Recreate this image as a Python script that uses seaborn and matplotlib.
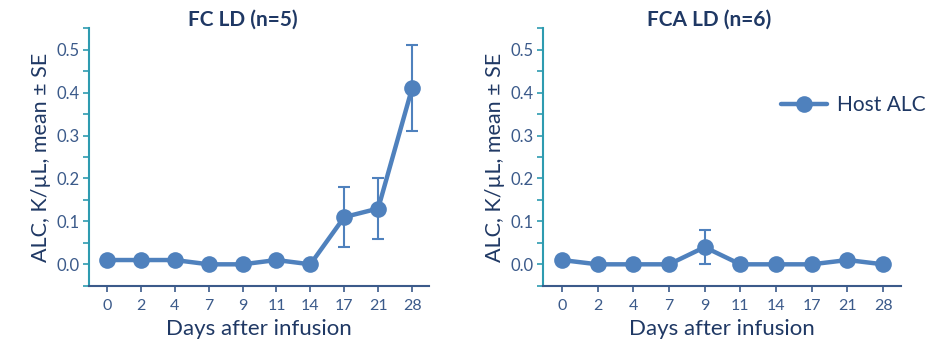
import numpy as np
import pandas as pd
import seaborn as sns
import matplotlib.pyplot as plt
from matplotlib.ticker import FixedLocator

sns.set_style('white')
plt.rcParams['font.family'] = ['Lato', 'DejaVu Sans']

days = ['0', '2', '4', '7', '9', '11', '14', '17', '21', '28']
fc_mean = [0.01, 0.01, 0.01, 0.0, 0.0, 0.01, 0.0, 0.11, 0.13, 0.41]
fc_se = [0, 0, 0, 0, 0, 0, 0, 0.07, 0.07, 0.10]
fca_mean = [0.01, 0.0, 0.0, 0.0, 0.04, 0.0, 0.0, 0.0, 0.01, 0.0]
fca_se = [0, 0, 0, 0, 0.04, 0, 0, 0, 0, 0]

line_col = '#4F81BD'
navy = '#1F3864'
tick_col = '#3B5A8A'
teal = '#2E9BB0'

fig = plt.figure(figsize=(9.28, 3.42), dpi=100)
ax1 = fig.add_axes([89/928, 1-286/342, 340/928, 258/342])
ax2 = fig.add_axes([543/928, 1-286/342, 358/928, 258/342])

panels = [(ax1, fc_mean, fc_se, 'FC LD (n=5)', 243),
          (ax2, fca_mean, fca_se, 'FCA LD (n=6)', 709)]

for ax, mean, se, title, tx in panels:
    df = pd.DataFrame({'day': days, 'alc': mean, 'se': se})
    ax.errorbar(df['day'], df['alc'], yerr=df['se'].where(df['se'] > 0),
                fmt='none', ecolor=line_col, elinewidth=1.5, capsize=4, capthick=1.5, zorder=2)
    sns.lineplot(data=df, x='day', y='alc', ax=ax, sort=False, color=line_col,
                 linewidth=3.2, marker='o', markersize=12, markeredgewidth=0,
                 label='Host ALC', legend=False, zorder=3)
    ax.set_ylim(-0.0505, 0.5505)
    ax.set_xlim(-0.53, 9.5)
    ax.set_yticks([0.0, 0.1, 0.2, 0.3, 0.4, 0.5])
    ax.set_yticklabels(['0.0', '0.1', '0.2', '0.3', '0.4', '0.5'])
    ax.yaxis.set_minor_locator(FixedLocator([-0.05, 0.05, 0.15, 0.25, 0.35, 0.45, 0.55]))
    ax.tick_params(axis='y', which='both', direction='out', left=True, length=4,
                   width=1.2, color=teal, labelcolor=tick_col, labelsize=12, pad=3)
    ax.tick_params(axis='x', direction='out', bottom=True, length=4, width=1.2,
                   color=tick_col, labelcolor=tick_col, labelsize=11.5, pad=5)
    sns.despine(ax=ax)
    ax.spines['left'].set_color(teal)
    ax.spines['left'].set_linewidth(1.5)
    ax.spines['bottom'].set_color(tick_col)
    ax.spines['bottom'].set_linewidth(1.5)
    ax.set_xlabel('Days after infusion', fontsize=16, color=navy, labelpad=5)
    ax.set_ylabel('ALC, K/µL, mean ± SE', fontsize=15.5, color=navy, labelpad=4)
    fig.text(tx/928, 1-20/342, title, ha='center', va='center', fontsize=15,
             fontweight='bold', color=navy)

ax2.legend(loc='center left', bbox_to_anchor=(0.665, 0.70), frameon=False,
           fontsize=15, labelcolor=navy, handlelength=2.2, handletextpad=0.5,
           borderaxespad=0, borderpad=0)

fig.savefig('out.png', dpi=100)
